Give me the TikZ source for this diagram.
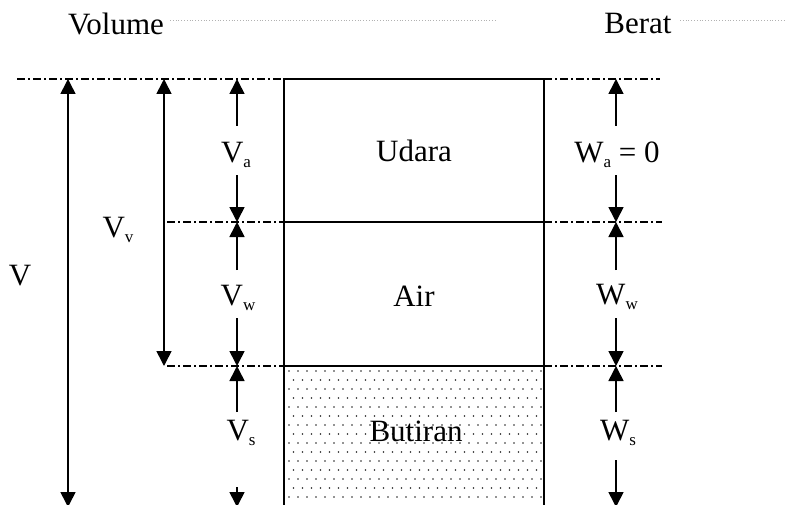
\documentclass[tikz,border=0pt]{standalone}
\usepackage{fontspec}
\setmainfont{Liberation Serif}
\usetikzlibrary{arrows.meta}
\newcommand{\lsub}[1]{\raisebox{-5pt}{\fontsize{17}{17}\selectfont #1}}
\begin{document}
\begin{tikzpicture}[x=1pt,y=-1pt,
  lab/.style={inner sep=0pt,anchor=base,font=\fontsize{31}{33}\selectfont},
  boxline/.style={line width=2pt},
  dashdot/.style={line width=1.3pt,dash pattern=on 8pt off 3pt on 2pt off 3pt},
  dimarrow/.style={line width=1.6pt,-{Triangle[width=15pt,length=15pt]}},
  dimboth/.style={line width=1.6pt,{Triangle[width=15pt,length=15pt]}-{Triangle[width=15pt,length=15pt]}},
  faint/.style={line width=0.8pt,gray!60,dotted}]
\useasboundingbox (0,0) rectangle (791,505);
\clip (0,0) rectangle (791,505);
% coordinates
\coordinate (topL) at (17,79);   \coordinate (boxTL) at (284,79);
\coordinate (boxTR) at (544,79); \coordinate (topR) at (660,79);
\coordinate (midL) at (167,222); \coordinate (boxML) at (284,222);
\coordinate (boxMR) at (544,222); \coordinate (midR) at (662,222);
\coordinate (lowL) at (167,366); \coordinate (boxLL) at (284,366);
\coordinate (boxLR) at (544,366); \coordinate (lowR) at (662,366);
\coordinate (boxBL) at (284,507); \coordinate (boxBR) at (544,507);
% dotted fill of solids
\begin{scope}
\clip (boxLL) rectangle (boxBR);
\foreach \r in {0,...,15}{
  \pgfmathsetmacro{\yy}{371+9*\r}
  \pgfmathsetmacro{\off}{mod(\r,2)*4.5}
  \foreach \c in {0,...,29}{
    \fill[black!85] ({289+\off+9*\c},\yy) circle (0.8pt);
  }
}
\end{scope}
% box
\draw[boxline] (boxBL) -- (boxTL) -- (boxTR) -- (boxBR);
\draw[boxline] (boxML) -- (boxMR);
\draw[boxline] (boxLL) -- (boxLR);
% dash-dot reference lines
\draw[dashdot] (topL) -- (boxTL);
\draw[dashdot] (boxTR) -- (topR);
\draw[dashdot] (midL) -- (boxML);
\draw[dashdot] (boxMR) -- (midR);
\draw[dashdot] (lowL) -- (boxLL);
\draw[dashdot] (boxLR) -- (lowR);
% headings
\node[lab] (vol) at (116,35) {Volume};
\node[lab] (ber) at (638,34) {Berat};
\coordinate (f1a) at (170,20); \coordinate (f1b) at (495,20);
\coordinate (f2a) at (680,20); \coordinate (f2b) at (785,20);
\draw[faint] (f1a) -- (f1b);
\draw[faint] (f2a) -- (f2b);
% phase labels
\node[lab] (udara) at (414,161) {Udara};
\node[lab] (air) at (414,306) {Air};
\node[lab] (butiran) at (416,441) {Butiran};
% volume labels
\node[lab] (V) at (20,285) {V};
\node[lab] (Vv) at (118,237) {V\lsub{v}};
\node[lab] (Va) at (236,163) {V\lsub{a}};
\node[lab] (Vw) at (238,305) {V\lsub{w}};
\node[lab] (Vs) at (241,440) {V\lsub{s}};
% weight labels
\node[lab] (Wa) at (617,163) {W\lsub{a} = 0};
\node[lab] (Ww) at (617,304) {W\lsub{w}};
\node[lab] (Ws) at (618,440) {W\lsub{s}};
% total volume arrow
\coordinate (vT) at (68,79); \coordinate (vB) at (68,507);
\draw[dimboth] (vT) -- (vB);
% void volume arrow
\coordinate (vvT) at (164,79); \coordinate (vvB) at (164,366);
\draw[dimboth] (vvT) -- (vvB);
% Va, Vw, Vs arrows
\coordinate (a1) at (237,126); \coordinate (a0) at (237,79);
\coordinate (a2) at (237,175); \coordinate (a3) at (237,222);
\coordinate (w1) at (237,270); \coordinate (w2) at (237,318);
\coordinate (w3) at (237,366);
\coordinate (s1) at (237,412); \coordinate (s2) at (237,487);
\coordinate (s3) at (237,507);
\draw[dimarrow] (a1) -- (a0);
\draw[dimarrow] (a2) -- (a3);
\draw[dimarrow] (w1) -- (a3);
\draw[dimarrow] (w2) -- (w3);
\draw[dimarrow] (s1) -- (w3);
\draw[dimarrow] (s2) -- (s3);
% Wa, Ww, Ws arrows
\coordinate (b1) at (616,126); \coordinate (b0) at (616,79);
\coordinate (b2) at (616,175); \coordinate (b3) at (616,222);
\coordinate (c1) at (616,270); \coordinate (c2) at (616,318);
\coordinate (c3) at (616,366);
\coordinate (d1) at (616,412); \coordinate (d2) at (616,460);
\coordinate (d3) at (616,507);
\draw[dimarrow] (b1) -- (b0);
\draw[dimarrow] (b2) -- (b3);
\draw[dimarrow] (c1) -- (b3);
\draw[dimarrow] (c2) -- (c3);
\draw[dimarrow] (d1) -- (c3);
\draw[dimarrow] (d2) -- (d3);
\end{tikzpicture}
\end{document}
